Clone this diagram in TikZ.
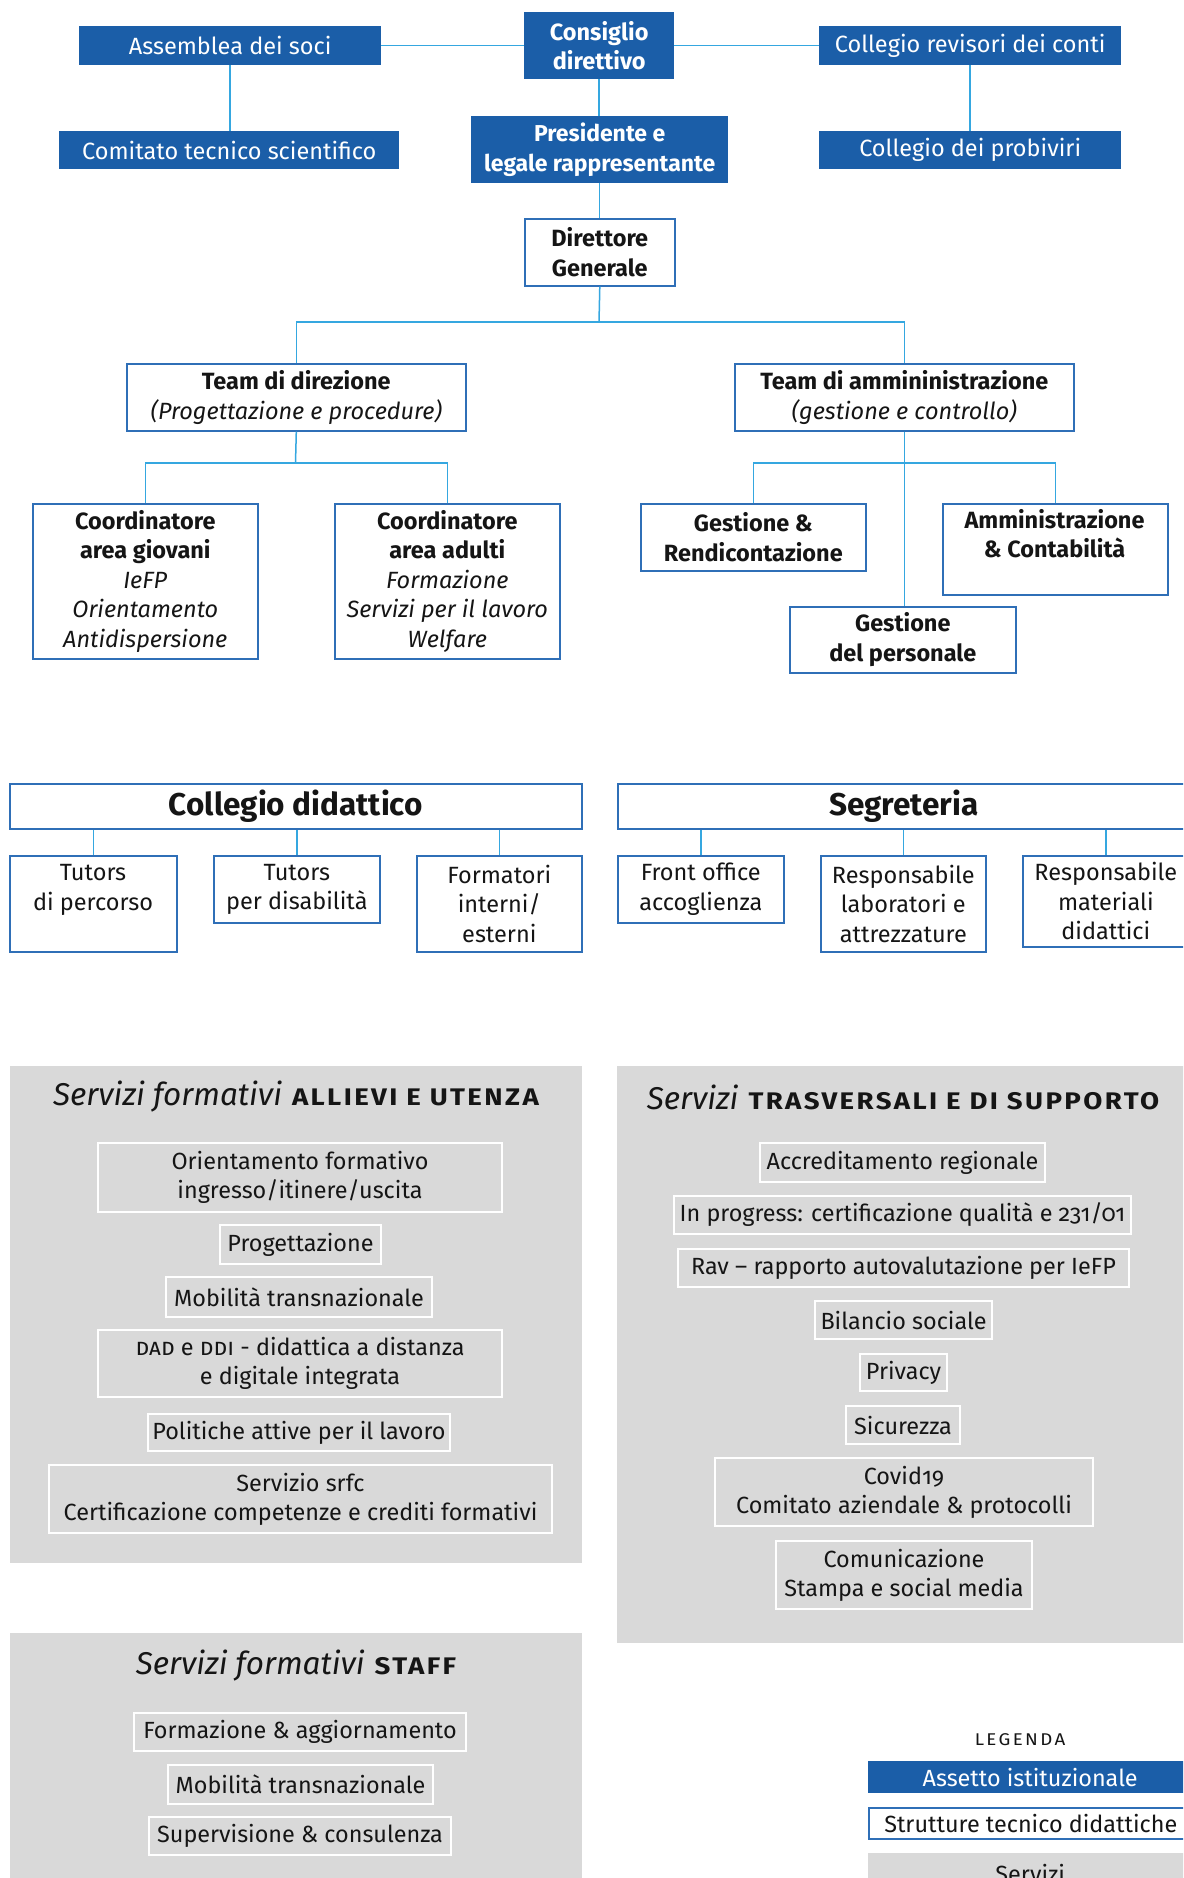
\documentclass[tikz,border=0pt]{standalone}
\usepackage{fontspec}
\setmainfont{Fira Sans}[Numbers=OldStyle]
\usetikzlibrary{positioning}

\definecolor{instblue}{HTML}{1B5EA8}
\definecolor{edgeblue}{HTML}{2F6FB7}
\definecolor{linkblue}{HTML}{35A7E0}
\definecolor{panelgray}{HTML}{D9D9D9}
\definecolor{ink}{HTML}{151515}

\newcommand{\chartfont}{\fontsize{23.5}{29.5}\selectfont}
\newcommand{\svcfont}{\fontsize{23.4}{29}\selectfont}

\tikzset{
  basebox/.style={anchor=north west, inner sep=0pt, align=center, font=\chartfont},
  inst/.style={basebox, fill=instblue, text=white},
  tech/.style={basebox, draw=edgeblue, line width=1.6pt, fill=white, text=ink},
  head/.style={tech, font=\fontsize{31.5}{34}\selectfont\bfseries},
  label text/.style={inner sep=0pt, align=center, font=\chartfont, text=ink},
  panel/.style={anchor=north west, inner sep=0pt, fill=panelgray},
  svc/.style={anchor=north west, inner sep=0pt, align=center, draw=white, line width=2pt,
    fill=panelgray, text=ink, font=\svcfont},
  ptitle/.style={inner sep=0pt, text=ink},
  link/.style={draw=linkblue, line width=1.5pt}
}

% panel heading: italic lead-in followed by wide, spaced bold capitals
\newcommand{\ptit}[2]{{\fontsize{31.5}{34}\selectfont\itshape #1}\hspace{10pt}%
  {\fontsize{24}{26}\selectfont\bfseries\addfontfeatures{FakeStretch=1.15,LetterSpace=10}#2}}

\begin{document}
\begin{tikzpicture}[x=1pt,y=-1pt]
\useasboundingbox (0,0) rectangle (1183,1878);
\fill[white] (0,0) rectangle (1183,1878);
\clip (0,0) rectangle (1183,1878);

% ---------- governing bodies ----------
\node[inst, minimum width=302pt, minimum height=39pt] (ass) at (79,26) {Assemblea dei soci};
\node[inst, minimum width=150pt, minimum height=67pt, font=\chartfont\bfseries] (cons) at (524,12) {Consiglio\\direttivo};
\node[inst, minimum width=302pt, minimum height=39pt] (rev) at (819,26) {Collegio revisori dei conti};
\node[inst, minimum width=340pt, minimum height=38pt] (cts) at (59,131) {Comitato tecnico scientifico};
\node[inst, minimum width=257pt, minimum height=67pt, font=\fontsize{23}{29.5}\selectfont\bfseries] (pres) at (471,116) {Presidente e\\legale rappresentante};
\node[inst, minimum width=302pt, minimum height=38pt] (prob) at (819,131) {Collegio dei probiviri};

\draw[link] (ass.east) -- (cons.west);
\draw[link] (cons.east) -- (rev.west);
\draw[link] (ass.south) -- (ass.south |- cts.north);
\draw[link] (rev.south) -- (rev.south |- prob.north);
\draw[link] (cons.south) -- (cons.south |- pres.north);

% ---------- management ----------
\node[tech, minimum width=150pt, minimum height=67pt, font=\chartfont\bfseries] (dir) at (524,218) {Direttore\\Generale};
\draw[link] (pres.south) -- (pres.south |- dir.north);

\node[tech, minimum width=339pt, minimum height=67pt] (tdir) at (126,363)
  {\textbf{Team di direzione}\\\textit{(Progettazione e procedure)}};
\node[tech, minimum width=339pt, minimum height=67pt] (tamm) at (734,363)
  {\textbf{Team di ammininistrazione}\\\textit{(gestione e controllo)}};

\coordinate (busA) at (599,322);
\draw[link] (dir.south) -- (busA);
\draw[link] (tdir.north) |- (busA) -| (tamm.north);

\node[tech, minimum width=225pt, minimum height=155pt] (cgio) at (32,503)
  {\textbf{Coordinatore}\\\textbf{area giovani}\\\textit{IeFP}\\\textit{Orientamento}\\\textit{Antidispersione}};
\node[tech, minimum width=225pt, minimum height=155pt] (cadu) at (334,503)
  {\textbf{Coordinatore}\\\textbf{area adulti}\\\textit{Formazione}\\\textit{Servizi per il lavoro}\\\textit{Welfare}};

\coordinate (busB) at (295.5,463);
\draw[link] (tdir.south) -- (busB);
\draw[link] (cgio.north) |- (busB) -| (cadu.north);

\node[tech, minimum width=225pt, minimum height=67pt, font=\chartfont\bfseries] (gr) at (640,503) {Gestione \&\\Rendicontazione};
\node[tech, minimum width=225pt, minimum height=91pt] (amm) at (942,503) {};
\node[label text, font=\chartfont\bfseries] (amm-t) at (1054.5,533.5) {Amministrazione\\\& Contabilità};
\node[tech, minimum width=226pt, minimum height=66pt, font=\chartfont\bfseries] (gpers) at (789,606) {Gestione\\del personale};

\coordinate (busC) at (901,463);
\draw[link] (tamm.south) -- (tamm.south |- gpers.north);
\draw[link] (gr.north) |- (busC) -| (amm.north);

% ---------- didactic structures ----------
\node[head, minimum width=572pt, minimum height=45pt] (cd) at (9,783) {Collegio didattico};
\node[head, minimum width=572pt, minimum height=45pt] (seg) at (617,783) {Segreteria};

\node[tech, minimum width=167pt, minimum height=96pt] (tp) at (9,855) {};
\node[label text] (tp-t) at (93,890) {Tutors\\di percorso};
\node[tech, minimum width=166pt, minimum height=67pt] (td) at (213,855) {Tutors\\per disabilità};
\node[tech, minimum width=165pt, minimum height=96pt] (fie) at (416,855) {Formatori\\interni/\\esterni};
\node[tech, minimum width=166pt, minimum height=67pt] (fo) at (617,855) {Front office\\accoglienza};
\node[tech, minimum width=165pt, minimum height=96pt] (rl) at (820,855) {Responsabile\\laboratori e\\attrezzature};
\node[tech, minimum width=166pt, minimum height=91pt] (rm) at (1022,855) {Responsabile\\materiali\\didattici};

\foreach \b in {tp,td,fie} \draw[link] (\b.north) -- (\b.north |- cd.south);
\foreach \b in {fo,rl,rm} \draw[link] (\b.north) -- (\b.north |- seg.south);

% ---------- services ----------
\node[panel, minimum width=572pt, minimum height=497pt] (p1) at (10,1066) {};
\node[panel, minimum width=572pt, minimum height=577pt] (p2) at (617,1066) {};
\node[panel, minimum width=572pt, minimum height=260pt] (p3) at (10,1633) {};

\node[ptitle] (p1-t) at (296,1097) {\ptit{Servizi formativi}{ALLIEVI E UTENZA}};
\node[ptitle] (p2-t) at (903,1097) {\ptit{Servizi}{TRASVERSALI E DI SUPPORTO}};
\node[ptitle] (p3-t) at (296,1666) {\ptit{Servizi formativi}{STAFF}};

\node[svc, minimum width=404pt, minimum height=69pt] (o1) at (97,1142) {Orientamento formativo\\ingresso/itinere/uscita};
\node[svc, minimum width=161pt, minimum height=39pt] (o2) at (219,1224) {Progettazione};
\node[svc, minimum width=266pt, minimum height=40pt] (o3) at (165,1276) {Mobilità transnazionale};
\node[svc, minimum width=404pt, minimum height=67pt] (o4) at (97,1329) {\textsc{dad} e \textsc{ddi} - didattica a distanza\\e digitale integrata};
\node[svc, minimum width=302pt, minimum height=37pt] (o5) at (147,1413) {Politiche attive per il lavoro};
\node[svc, minimum width=503pt, minimum height=68pt] (o6) at (48,1464) {Servizio srfc\\Certificazione competenze e crediti formativi};

\node[svc, minimum width=285pt, minimum height=39pt] (r1) at (759,1142) {Accreditamento regionale};
\node[svc, minimum width=457pt, minimum height=38pt] (r2) at (673,1195) {In progress: certificazione qualità e 231/01};
\node[svc, minimum width=451pt, minimum height=38pt] (r3) at (677,1248) {Rav – rapporto autovalutazione per IeFP};
\node[svc, minimum width=177pt, minimum height=38pt] (r4) at (814,1300) {Bilancio sociale};
\node[svc, minimum width=87pt, minimum height=37pt] (r5) at (859,1353) {Privacy};
\node[svc, minimum width=114pt, minimum height=38pt] (r6) at (845,1405) {Sicurezza};
\node[svc, minimum width=378pt, minimum height=68pt] (r7) at (714,1457) {Covid19\\Comitato aziendale \& protocolli};
\node[svc, minimum width=256pt, minimum height=68pt] (r8) at (775,1540) {Comunicazione\\Stampa e social media};

\node[svc, minimum width=332pt, minimum height=38pt] (s1) at (133,1712) {Formazione \& aggiornamento};
\node[svc, minimum width=265pt, minimum height=39pt] (s2) at (167,1764) {Mobilità transnazionale};
\node[svc, minimum width=302pt, minimum height=38pt] (s3) at (148,1816) {Supervisione \& consulenza};

% ---------- legend ----------
\node[ptitle, font=\fontsize{17}{19}\selectfont\addfontfeatures{FakeStretch=1.1,LetterSpace=14}] (leg) at (1020,1740) {LEGENDA};
\node[inst, minimum width=324pt, minimum height=32pt, font=\svcfont] (lg1) at (868,1761) {Assetto istituzionale};
\node[tech, minimum width=324pt, minimum height=31pt, font=\svcfont] (lg2) at (868,1807) {Strutture tecnico didattiche};
\node[panel, minimum width=324pt, minimum height=40pt, font=\svcfont, text=ink] (lg3) at (868,1853) {Servizi};
\end{tikzpicture}
\end{document}
